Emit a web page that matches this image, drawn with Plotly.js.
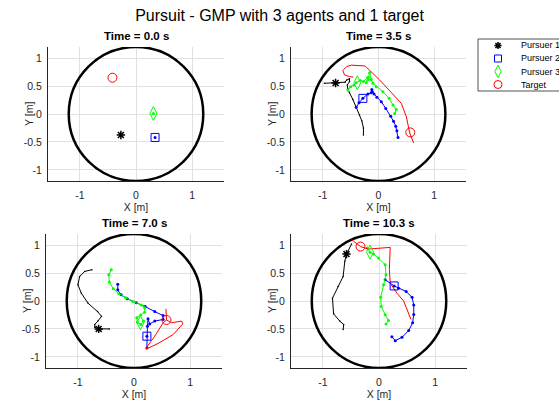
<!DOCTYPE html>
<html>
<head>
<meta charset="utf-8">
<script src="https://cdn.plot.ly/plotly-3.0.1.min.js"></script>
<style>html,body{margin:0;padding:0;background:#fff;}#chart{width:559px;height:404px;}</style>
</head>
<body>
<div id="chart"></div>
<script>
// ---------- data ----------
var mainTitle = 'Pursuit - GMP with 3 agents and 1 target';
var snapshotTimes = ['0.0', '3.5', '7.0', '10.3'];
var agentNames = ['Pursuer 1', 'Pursuer 2', 'Pursuer 3', 'Target'];
var xAxisTitle = 'X [m]';
var yAxisTitle = 'Y [m]';
var arenaRadius = 1.2;
var xTickVals = [-1, 0, 1];
var xTickLabels = ['-1', '0', '1'];
var yTickVals = [-1, -0.5, 0, 0.5, 1];
var yTickLabels = ['-1', '-0.5', '0', '0.5', '1'];

// current positions (markers) per snapshot
var p1MarkX = [-0.27, -0.77, -0.63, -0.58];
var p1MarkY = [-0.375, 0.555, -0.50, 0.84];
var p2MarkX = [0.34, -0.28, 0.23, 0.27];
var p2MarkY = [-0.42, 0.28, -0.63, 0.27];
var p3MarkX = [0.31, -0.38, 0.115, -0.16];
var p3MarkY = [0.01, 0.56, -0.39, 0.875];
var tMarkX = [-0.42, 0.57, 0.58, -0.33];
var tMarkY = [0.65, -0.33, -0.34, 0.975];

// trails, t = 0.0 s
var p1Trail0X = [-0.27], p1Trail0Y = [-0.375];
var p2Trail0X = [0.34], p2Trail0Y = [-0.42];
var p3Trail0X = [0.31], p3Trail0Y = [0.01];
var tTrail0X = [-0.42], tTrail0Y = [0.65];

// trails, t = 3.5 s
var p1Trail1X = [-0.27, -0.27, -0.30, -0.34, -0.40, -0.46, -0.52, -0.55, -0.56, -0.52, -0.52, -0.57, -0.60, -0.77, -0.97];
var p1Trail1Y = [-0.375, -0.25, -0.12, -0.02, 0.12, 0.26, 0.38, 0.45, 0.52, 0.58, 0.63, 0.61, 0.57, 0.555, 0.55];
var p2Trail1X = [0.35, 0.33, 0.31, 0.27, 0.22, 0.13, 0.05, -0.03, -0.08, -0.11, -0.12, -0.13, -0.19, -0.28, -0.35, -0.40];
var p2Trail1Y = [-0.42, -0.30, -0.22, -0.13, -0.04, 0.10, 0.22, 0.30, 0.36, 0.40, 0.44, 0.38, 0.36, 0.28, 0.20, 0.12];
var p3Trail1X = [0.29, 0.32, 0.26, 0.19, 0.08, -0.04, -0.10, -0.13, -0.16, -0.18, -0.22, -0.19, -0.27, -0.33, -0.40, -0.44, -0.50, -0.55];
var p3Trail1Y = [0.01, 0.08, 0.16, 0.28, 0.40, 0.49, 0.55, 0.62, 0.74, 0.62, 0.56, 0.66, 0.58, 0.60, 0.56, 0.52, 0.49, 0.43];
var tTrail1X = [-0.45, -0.52, -0.61, -0.64, -0.57, -0.49, -0.24, 0.02, 0.41, 0.50, 0.56, 0.63];
var tTrail1Y = [0.66, 0.67, 0.70, 0.78, 0.85, 0.875, 0.86, 0.61, 0.19, -0.05, -0.34, -0.52];

// trails, t = 7.0 s
var p1Trail2X = [-0.75, -0.88, -0.97, -1.00, -0.94, -0.82, -0.65, -0.58, -0.645, -0.70, -0.70, -0.63, -0.44];
var p1Trail2Y = [0.56, 0.53, 0.44, 0.29, 0.14, -0.04, -0.19, -0.275, -0.36, -0.42, -0.47, -0.50, -0.50];
var p2Trail2X = [-0.29, -0.29, -0.23, -0.12, 0.04, 0.20, 0.37, 0.52, 0.52, 0.37, 0.28, 0.25, 0.24, 0.23, 0.23];
var p2Trail2Y = [0.30, 0.20, 0.11, 0.04, -0.03, -0.10, -0.19, -0.26, -0.33, -0.36, -0.41, -0.32, -0.45, -0.63, -0.84];
var p3Trail2X = [-0.405, -0.45, -0.44, -0.37, -0.27, -0.15, -0.02, 0.13, 0.19, 0.19, 0.12, 0.05, 0.06, 0.12, 0.17];
var p3Trail2Y = [0.56, 0.47, 0.34, 0.22, 0.13, 0.06, -0.01, -0.07, -0.12, -0.20, -0.25, -0.30, -0.38, -0.42, -0.36];
var tTrail2X = [0.57, 0.58, 0.67, 0.85, 0.87, 0.70, 0.43, 0.22, 0.24, 0.37, 0.52, 0.58];
var tTrail2Y = [-0.14, -0.34, -0.39, -0.36, -0.41, -0.60, -0.76, -0.86, -0.81, -0.63, -0.39, -0.34];

// trails, t = 10.3 s
var p1Trail3X = [-0.64, -0.63, -0.70, -0.81, -0.83, -0.73, -0.64, -0.61, -0.58, -0.49];
var p1Trail3Y = [-0.51, -0.42, -0.36, -0.23, 0.05, 0.26, 0.44, 0.71, 0.84, 1.02];
var p2Trail3X = [0.23, 0.29, 0.41, 0.53, 0.60, 0.62, 0.62, 0.59, 0.485, 0.35, 0.27, 0.11];
var p2Trail3Y = [-0.64, -0.71, -0.65, -0.53, -0.39, -0.24, -0.07, 0.065, 0.17, 0.23, 0.27, 0.38];
var p3Trail3X = [0.125, 0.17, 0.11, 0.04, 0.03, 0.08, 0.125, 0.11, -0.01, -0.10, -0.16, -0.21];
var p3Trail3Y = [-0.41, -0.35, -0.245, -0.10, 0.065, 0.29, 0.47, 0.65, 0.77, 0.84, 0.875, 0.95];
var tTrail3X = [0.57, 0.50, 0.44, 0.32, 0.20, 0.185, 0.20, 0.20, -0.19, -0.33, -0.49];
var tTrail3Y = [-0.33, -0.155, 0.0, 0.14, 0.32, 0.56, 0.85, 0.96, 0.93, 0.975, 1.10];

// ---------- build ----------
var W = 559, H = 404;
var colors = ['#000000', '#0000ff', '#00ff00', '#ff0000'];
var symbols = ['asterisk-open', 'square-open', 'diamond-tall-open', 'circle-open'];
var symSizes = [7, 8, 10, 9];
var trailDots = [1.5, 3, 3, 0];

var trails = [
  [[p1Trail0X, p1Trail0Y], [p2Trail0X, p2Trail0Y], [p3Trail0X, p3Trail0Y], [tTrail0X, tTrail0Y]],
  [[p1Trail1X, p1Trail1Y], [p2Trail1X, p2Trail1Y], [p3Trail1X, p3Trail1Y], [tTrail1X, tTrail1Y]],
  [[p1Trail2X, p1Trail2Y], [p2Trail2X, p2Trail2Y], [p3Trail2X, p3Trail2Y], [tTrail2X, tTrail2Y]],
  [[p1Trail3X, p1Trail3Y], [p2Trail3X, p2Trail3Y], [p3Trail3X, p3Trail3Y], [tTrail3X, tTrail3Y]]
];
var marks = [[p1MarkX, p1MarkY], [p2MarkX, p2MarkY], [p3MarkX, p3MarkY], [tMarkX, tMarkY]];

// pixel boxes of each axes [left, right, top, bottom]
var boxes = [[48, 224, 47, 181], [291, 466, 47, 181], [46, 222, 234, 368], [291, 467, 234, 368]];

var data = [];
var layout = {
  width: W, height: H,
  margin: {l: 0, r: 0, t: 0, b: 0},
  paper_bgcolor: '#ffffff', plot_bgcolor: '#ffffff',
  showlegend: false,
  font: {family: 'Liberation Sans, Arial, sans-serif', color: '#262626', size: 10.5},
  title: {text: mainTitle, x: 0.5, xanchor: 'center', y: 1 - 15 / H, yanchor: 'middle',
          font: {size: 16, color: '#000000', family: 'Liberation Sans, Arial, sans-serif'}},
  shapes: [], annotations: []
};

for (var s = 0; s < 4; s++) {
  var b = boxes[s];
  var sfx = s === 0 ? '' : String(s + 1);
  var xa = 'x' + sfx, ya = 'y' + sfx;
  layout['xaxis' + sfx] = {
    domain: [b[0] / W, b[1] / W], range: [-1.57, 1.57], anchor: ya,
    tickvals: xTickVals, ticktext: xTickLabels, ticks: '', ticklabelstandoff: 4,
    showgrid: true, gridcolor: '#e1e1e1', gridwidth: 1, zeroline: false,
    showline: true, linecolor: '#262626', linewidth: 1, mirror: false,
    tickfont: {size: 10.5, color: '#262626'},
    title: {text: xAxisTitle, font: {size: 10.5, color: '#262626'}, standoff: 2},
    fixedrange: true
  };
  layout['yaxis' + sfx] = {
    domain: [1 - b[3] / H, 1 - b[2] / H], range: [-1.2, 1.2], anchor: xa,
    tickvals: yTickVals, ticktext: yTickLabels, ticks: '', ticklabelstandoff: 3,
    showgrid: true, gridcolor: '#e1e1e1', gridwidth: 1, zeroline: false,
    showline: true, linecolor: '#262626', linewidth: 1, mirror: false,
    tickfont: {size: 10.5, color: '#262626'},
    fixedrange: true
  };
  // y-axis title, placed just left of the tick labels
  layout.annotations.push({xref: 'paper', yref: 'paper', x: (b[0] - 19) / W,
    y: 1 - (b[2] + b[3]) / 2 / H, xanchor: 'center', yanchor: 'middle', textangle: -90,
    showarrow: false, text: yAxisTitle, font: {size: 10.5, color: '#262626'}});
  layout.shapes.push({type: 'circle', xref: xa, yref: ya, layer: 'between',
    x0: -arenaRadius, x1: arenaRadius, y0: -arenaRadius, y1: arenaRadius,
    line: {color: '#000000', width: 2.5}});
  layout.annotations.push({xref: 'paper', yref: 'paper', x: (b[0] + b[1]) / 2 / W,
    y: 1 - (b[2] - 3) / H, yanchor: 'bottom', xanchor: 'center', showarrow: false,
    text: '<b>Time = ' + snapshotTimes[s] + ' s</b>', font: {size: 11.5, color: '#000000'}});

  for (var a = 0; a < 4; a++) {
    var tr = trails[s][a];
    data.push({type: 'scatter', mode: trailDots[a] > 0 ? 'lines+markers' : 'lines',
      x: tr[0], y: tr[1], xaxis: xa, yaxis: ya, hoverinfo: 'skip',
      line: {color: colors[a], width: 1},
      marker: {color: colors[a], size: trailDots[a]}});
  }
  for (var a2 = 0; a2 < 4; a2++) {
    data.push({type: 'scatter', mode: 'markers',
      x: [marks[a2][0][s]], y: [marks[a2][1][s]], xaxis: xa, yaxis: ya, hoverinfo: 'skip',
      marker: {symbol: symbols[a2], size: symSizes[a2], color: colors[a2],
               line: {color: colors[a2], width: a2 === 0 ? 1.5 : 1}}});
  }
}

// ---------- legend (drawn on its own small axes) ----------
var legBox = [478, 600, 39, 91];
layout.xaxis5 = {domain: [legBox[0] / W, 1], range: [0, W - legBox[0]], anchor: 'y5',
  visible: false, fixedrange: true};
layout.yaxis5 = {domain: [1 - legBox[3] / H, 1 - legBox[2] / H], range: [agentNames.length, 0],
  anchor: 'x5', visible: false, fixedrange: true};
layout.shapes.push({type: 'rect', xref: 'paper', yref: 'paper',
  x0: legBox[0] / W, x1: legBox[1] / W, y0: 1 - legBox[3] / H, y1: 1 - legBox[2] / H,
  line: {color: '#262626', width: 0.8}, fillcolor: '#ffffff', layer: 'below'});
for (var i = 0; i < agentNames.length; i++) {
  data.push({type: 'scatter', mode: 'markers', x: [20], y: [i + 0.5], xaxis: 'x5', yaxis: 'y5',
    hoverinfo: 'skip', cliponaxis: false,
    marker: {symbol: symbols[i], size: symSizes[i] - 1, color: colors[i],
             line: {color: colors[i], width: i === 0 ? 1.5 : 1}}});
  layout.annotations.push({xref: 'x5', yref: 'y5', x: 41, y: i + 0.5, xanchor: 'left',
    yanchor: 'middle', showarrow: false, text: agentNames[i],
    font: {size: 9, color: '#000000'}});
}

Plotly.newPlot('chart', data, layout, {staticPlot: true, displayModeBar: false});
</script>
</body>
</html>
